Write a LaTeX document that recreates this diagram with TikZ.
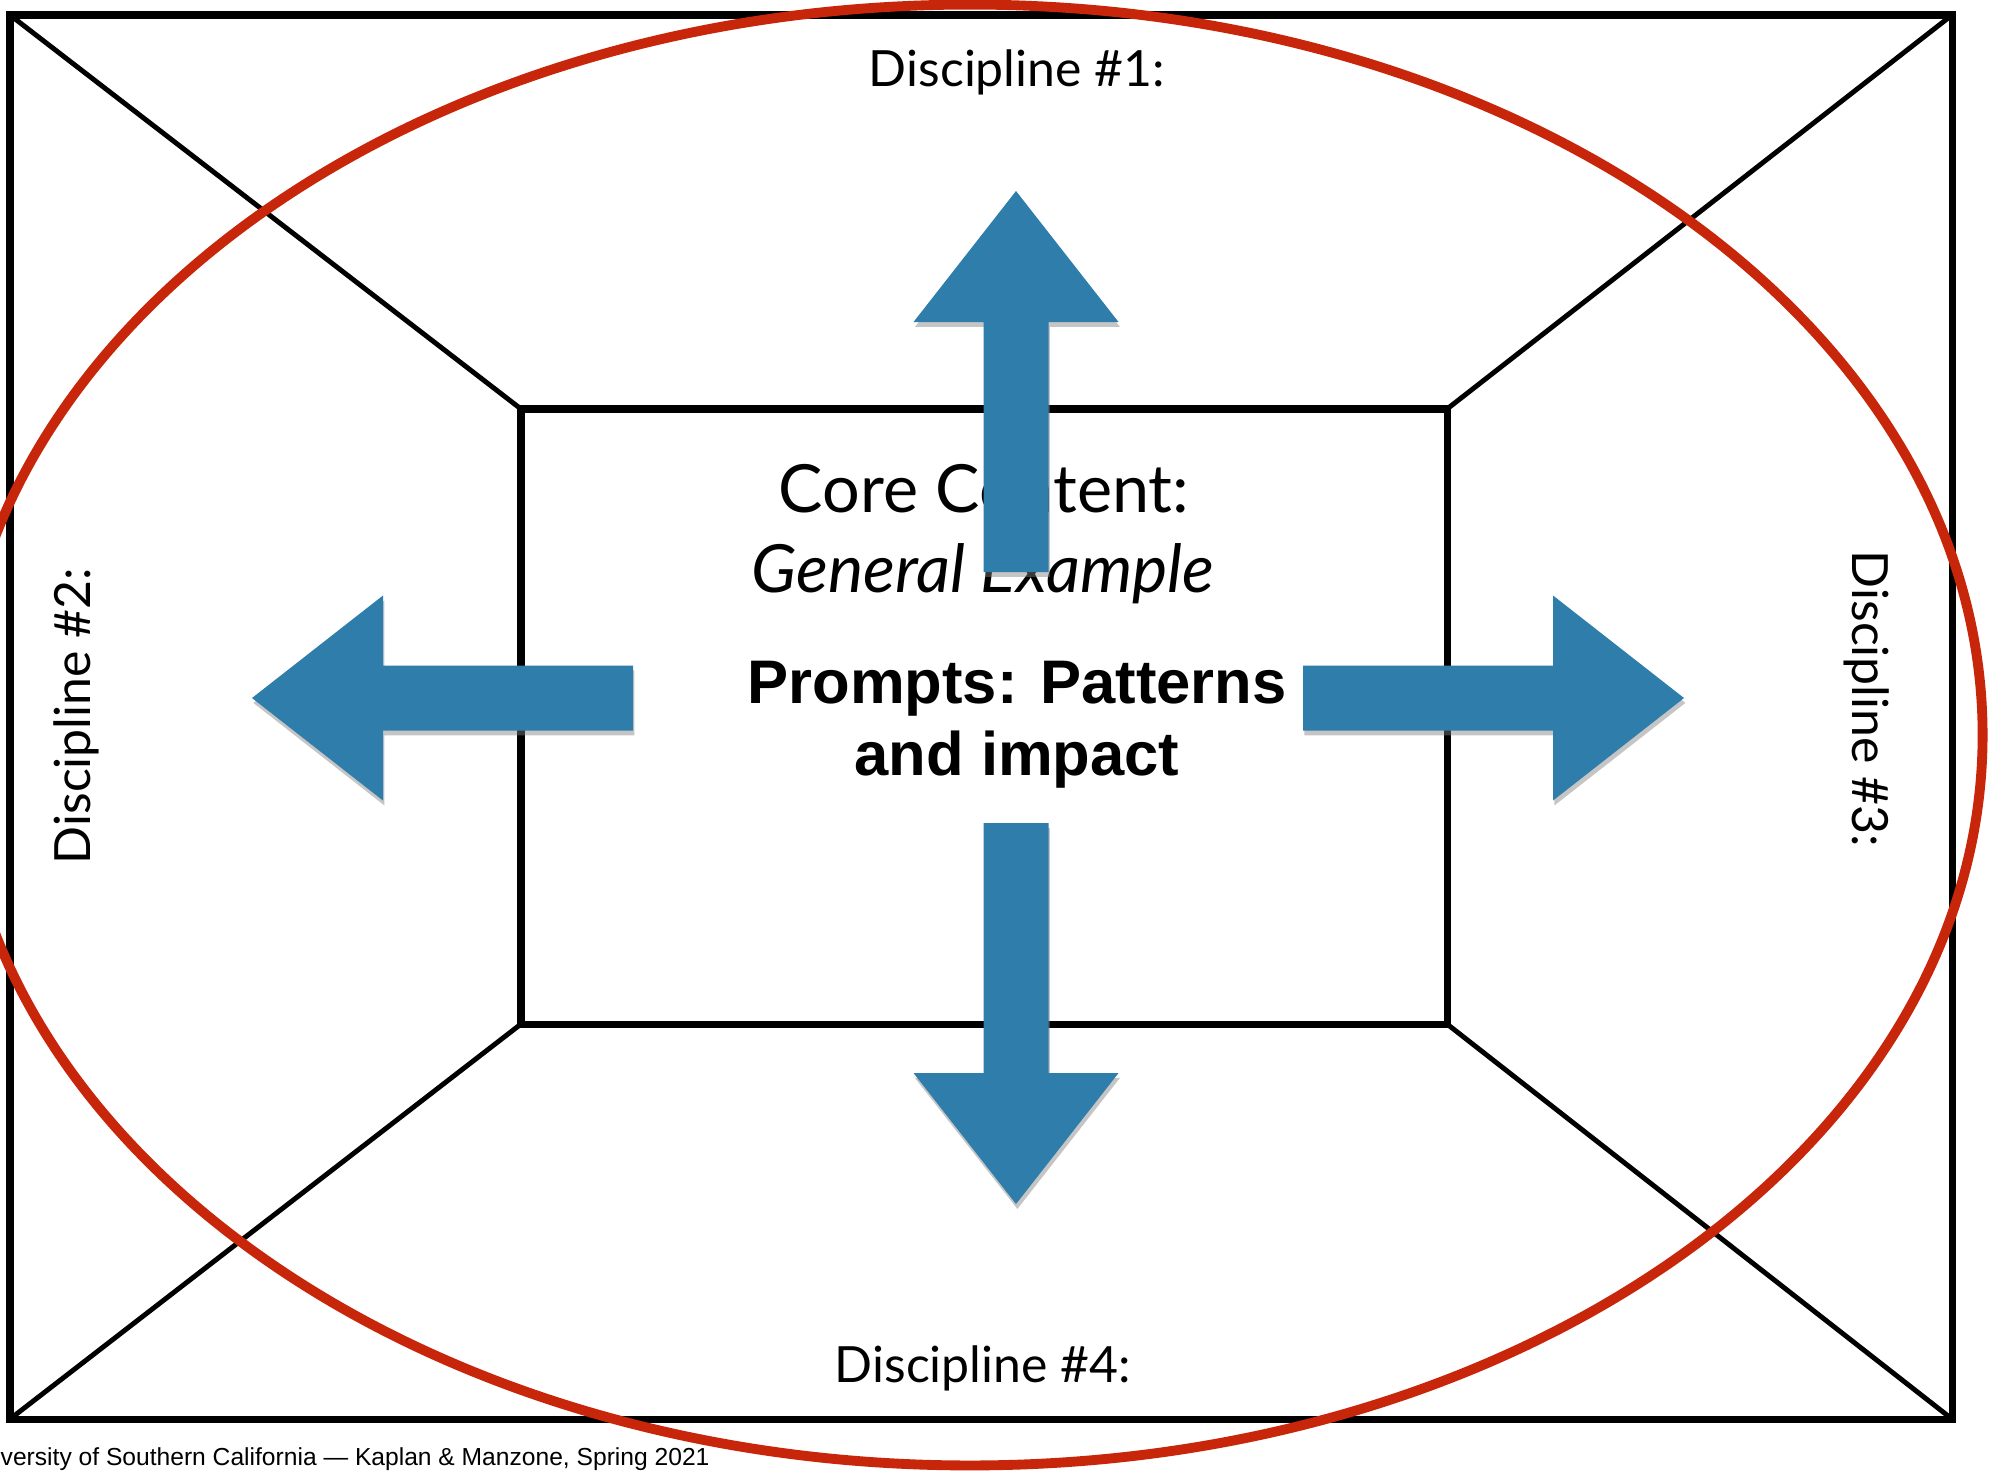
\documentclass[tikz,border=0pt]{standalone}
\usepackage{fontspec}
\newfontfamily\gillfont{Lato}
\newfontfamily\helvfont{Liberation Sans}
\usetikzlibrary{shadows}
\definecolor{arrowblue}{RGB}{46,125,171}
\definecolor{ringred}{RGB}{200,38,10}
\tikzset{
  boxline/.style={line width=2pt},
  diagline/.style={line width=1.4pt},
  disc/.style={font=\gillfont\fontsize{14.2}{17}\selectfont, inner sep=0pt, anchor=base},
  core/.style={font=\gillfont\fontsize{18.9}{22}\selectfont, inner sep=0pt, anchor=base},
  prompt/.style={font=\helvfont\bfseries\fontsize{17.5}{21}\selectfont, inner sep=0pt, anchor=base},
  foot/.style={font=\helvfont\fontsize{7}{8}\selectfont, inner sep=0pt, anchor=base west},
  fatarrow/.pic={
    \fill[arrowblue, drop shadow={opacity=0.45, shadow xshift=0.4pt, shadow yshift=-1.4pt}]
      (0,-32.5) -- (250,-32.5) -- (250,-102.5) -- (381,0) -- (250,102.5) -- (250,32.5) -- (0,32.5) -- cycle;
  }
}
\begin{document}
\begin{tikzpicture}[x=0.01cm, y=-0.01cm]
  \useasboundingbox (0,0) rectangle (1992,1472);
  \fill[white] (0,0) rectangle (1992,1472);
  \coordinate (NW) at (10,15);
  \coordinate (NE) at (1952,15);
  \coordinate (SE) at (1952,1419);
  \coordinate (SW) at (10,1419);
  \coordinate (nw) at (521,409);
  \coordinate (ne) at (1447,409);
  \coordinate (se) at (1447,1024);
  \coordinate (sw) at (521,1024);
  \draw[diagline] (NW) -- (nw);
  \draw[diagline] (NE) -- (ne);
  \draw[diagline] (SE) -- (se);
  \draw[diagline] (SW) -- (sw);
  \draw[boxline] (NW) rectangle (SE);
  \draw[boxline] (nw) rectangle (se);
  \node[disc] at (1017,86) (disc1) {Discipline \#1:};
  \node[disc, rotate=90] at (90,716) (disc2) {Discipline \#2:};
  \node[disc, rotate=-90] at (1852,699) (disc3) {Discipline \#3:};
  \node[disc] at (983,1382) (disc4) {Discipline \#4:};
  \node[core] at (984,512) (core) {Core Content:};
  \node[core] at (983,592) (example) {\itshape General Example};
  \node[prompt] at (1017,703) (prompts) {Prompts: Patterns};
  \node[prompt] at (1017,775) (impact) {and impact};
  \node[foot] at (0,1465) (footer) {versity of Southern California — Kaplan \& Manzone, Spring 2021};
  \coordinate (uptail) at (1016,572);
  \coordinate (downtail) at (1016,823);
  \coordinate (lefttail) at (633,698);
  \coordinate (righttail) at (1303,698);
  \pic[rotate=90] at (uptail) {fatarrow};
  \pic[rotate=-90] at (downtail) {fatarrow};
  \pic[rotate=180] at (lefttail) {fatarrow};
  \pic at (righttail) {fatarrow};
  \draw[ringred, line width=2.8pt] (970,735) ellipse [x radius=10.12cm, y radius=7.3cm];
\end{tikzpicture}
\end{document}
